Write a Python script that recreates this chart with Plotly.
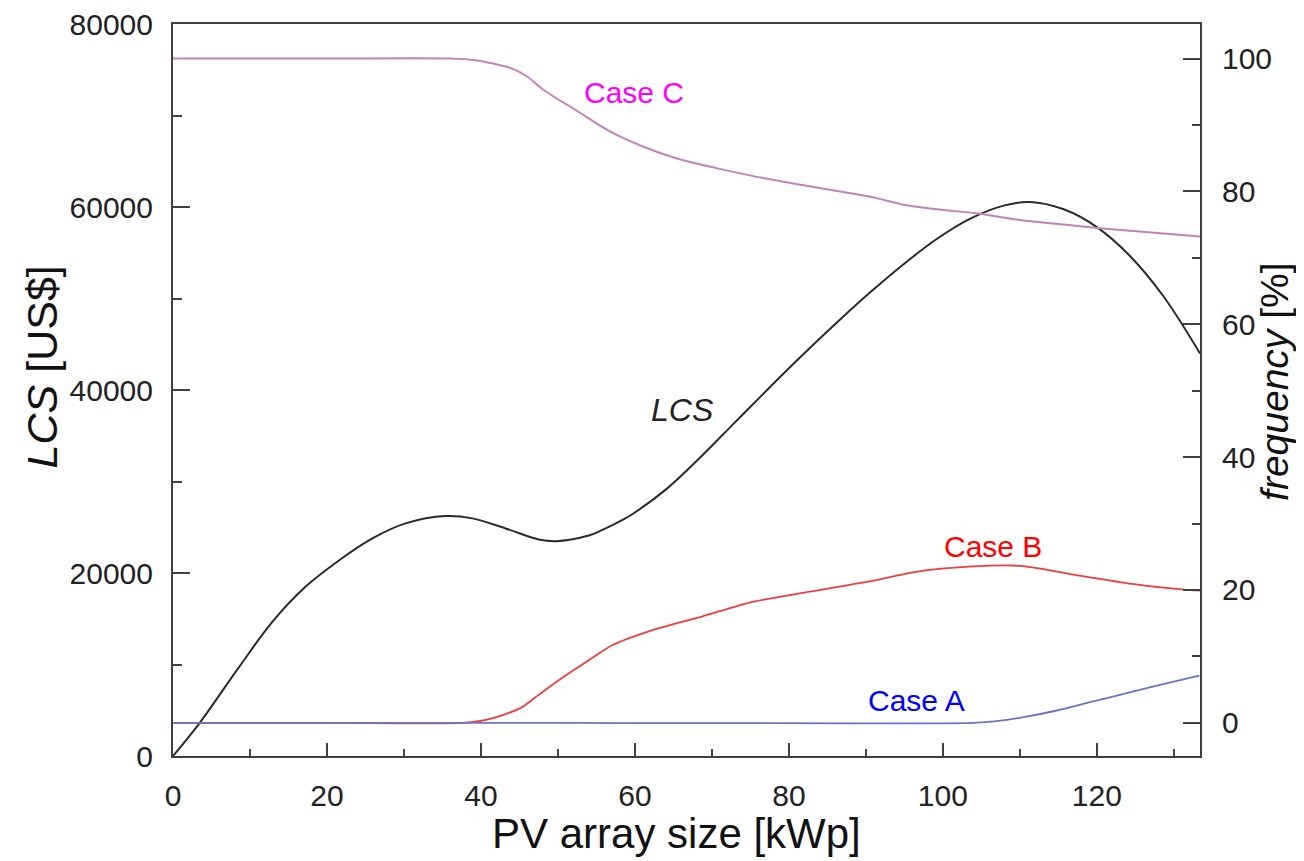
import plotly.graph_objects as go

# ---- data ----
x_lcs = [0, 3.4, 8.6, 12.9, 17.2, 21.6, 25.9, 30.2, 35.4, 38.9, 43.2, 47.5, 49.7, 54.0, 55.5,
         58.4, 59.8, 64.2, 68.5, 72.8, 77.1, 81.5, 86.2, 90.6, 94.9, 99.2, 103.5, 107.9, 111.3,
         115.7, 120.0, 124.3, 128.6, 133.4]
lcs = [0, 3540, 9740, 14660, 18490, 21400, 23780, 25420, 26220, 25970, 24870, 23670, 23480, 24100,
       24600, 25800, 26500, 29250, 32650, 36300, 39950, 43600, 47350, 50700, 53750, 56500, 58700,
       60150, 60550, 59750, 57800, 54650, 50300, 44000]

x_c = [0, 20, 36.0, 39.5, 43.8, 46.0, 48.1, 52.5, 56.8, 61.6, 65.9, 70.6, 75.4, 81.5, 90.6, 94.9,
       99.2, 104.4, 110.0, 115.7, 120.0, 125.1, 133.4]
case_c = [100, 100, 100, 99.7, 98.6, 97.3, 95.3, 92.1, 89.0, 86.5, 84.8, 83.5, 82.3, 81.0, 79.2,
          78.0, 77.3, 76.7, 75.7, 75.0, 74.5, 74.0, 73.2]

x_b = [0, 20, 37.6, 40.5, 43.2, 45.4, 47.5, 50.1, 54.0, 57.1, 62.4, 68.7, 74.9, 82.0, 90.1, 96.7,
       103.3, 110.4, 117.5, 124.6, 131.7, 133.4]
case_b = [0, 0, 0, 0.4, 1.3, 2.4, 4.2, 6.4, 9.4, 11.7, 14.0, 16.0, 18.1, 19.6, 21.2, 22.75, 23.5,
          23.6, 22.2, 20.9, 20.0, 19.9]

x_a = [0, 50, 104.0, 107.0, 110.5, 114.8, 119.1, 123.5, 127.8, 133.3]
case_a = [0, 0, 0, 0.25, 0.85, 1.85, 3.1, 4.35, 5.6, 7.1]

x_ticks = [0, 20, 40, 60, 80, 100, 120]
lcs_ticks = [0, 20000, 40000, 60000, 80000]
lcs_tick_text = ["0", "20000", "40000", "60000", "80000"]
freq_ticks = [0, 20, 40, 60, 80, 100]

FONT = "Liberation Sans, Arial, sans-serif"
AX = "#404040"
TXT = "#222222"

fig = go.Figure()
fig.add_trace(go.Scatter(x=x_c, y=case_c, yaxis="y2", mode="lines",
                         line=dict(color="rgb(195,130,185)", width=2, shape="spline", smoothing=0.7)))
fig.add_trace(go.Scatter(x=x_b, y=case_b, yaxis="y2", mode="lines",
                         line=dict(color="rgb(240,60,60)", width=1.8, shape="spline", smoothing=0.7)))
fig.add_trace(go.Scatter(x=x_a, y=case_a, yaxis="y2", mode="lines",
                         line=dict(color="rgb(105,115,200)", width=1.8, shape="spline", smoothing=0.7)))
fig.add_trace(go.Scatter(x=x_lcs, y=lcs, mode="lines",
                         line=dict(color="#2a2a2a", width=2, shape="spline", smoothing=1.0)))

# page has an 8px body margin; plot area in the page spans x 173..1200, y 24..756
fig.update_layout(
    width=1304, height=861, autosize=False,
    paper_bgcolor="white", plot_bgcolor="white",
    showlegend=False,
    margin=dict(l=165, r=112, t=16, b=113),
    font=dict(family=FONT, color=TXT),
    xaxis=dict(range=[0, 133.4], tickvals=x_ticks, ticks="inside", ticklen=13, tickwidth=2,
               tickcolor=AX, showline=True, linecolor=AX, linewidth=2, mirror=True,
               showgrid=False, zeroline=False, automargin=False, ticklabeloverflow="allow",
               tickfont=dict(size=30, family=FONT, color=TXT), ticklabelstandoff=12,
               minor=dict(dtick=10, tick0=0, ticks="inside", ticklen=7, tickwidth=2, tickcolor=AX,
                          showgrid=False)),
    yaxis=dict(range=[0, 80001], tickvals=lcs_ticks, ticktext=lcs_tick_text, ticks="inside",
               ticklen=17, tickwidth=2, tickcolor=AX, showline=True, linecolor=AX, linewidth=2,
               mirror=True, showgrid=False, zeroline=False, automargin=False,
               ticklabeloverflow="allow",
               tickfont=dict(size=30, family=FONT, color=TXT), ticklabelstandoff=12,
               minor=dict(dtick=10000, tick0=0, ticks="inside", ticklen=9, tickwidth=2,
                          tickcolor=AX, showgrid=False)),
    yaxis2=dict(range=[-5, 105.2], overlaying="y", side="right", tickvals=freq_ticks,
                ticks="inside", ticklen=17, tickwidth=2, tickcolor=AX, showline=True,
                linecolor=AX, linewidth=2, showgrid=False, zeroline=False, automargin=False,
                ticklabeloverflow="allow",
                tickfont=dict(size=30, family=FONT, color=TXT), ticklabelstandoff=14,
                minor=dict(dtick=10, tick0=0, ticks="inside", ticklen=8, tickwidth=2,
                           tickcolor=AX, showgrid=False)),
)

labels = [
    dict(text="Case C", x=59.9, y=94.9, yref="y2", color="#ff00ff", size=30),
    dict(text="Case B", x=106.5, y=26.6, yref="y2", color="#ff0000", size=30),
    dict(text="Case A", x=96.6, y=3.4, yref="y2", color="#0000ff", size=30),
    dict(text="<i>LCS</i>", x=66.1, y=37810, yref="y", color=TXT, size=32),
]
for lb in labels:
    fig.add_annotation(text=lb["text"], x=lb["x"], y=lb["y"], xref="x", yref=lb["yref"],
                       showarrow=False, xanchor="center", yanchor="middle",
                       font=dict(size=lb["size"], color=lb["color"], family=FONT))

fig.add_annotation(text="PV array size [kWp]", xref="paper", yref="paper", x=0.49, y=-0.1057,
                   showarrow=False, xanchor="center", yanchor="middle",
                   font=dict(size=42, family=FONT, color="#111"))
fig.add_annotation(text="<i>LCS</i> [US$]", xref="paper", yref="paper", x=-0.1272, y=0.5314,
                   showarrow=False, xanchor="center", yanchor="middle", textangle=-90,
                   font=dict(size=43, family=FONT, color="#111"))
fig.add_annotation(text="<i>frequency</i> [%]", xref="paper", yref="paper", x=1.073, y=0.511,
                   showarrow=False, xanchor="center", yanchor="middle", textangle=-90,
                   font=dict(size=39, family=FONT, color="#111"))

fig.write_html("out.html")
